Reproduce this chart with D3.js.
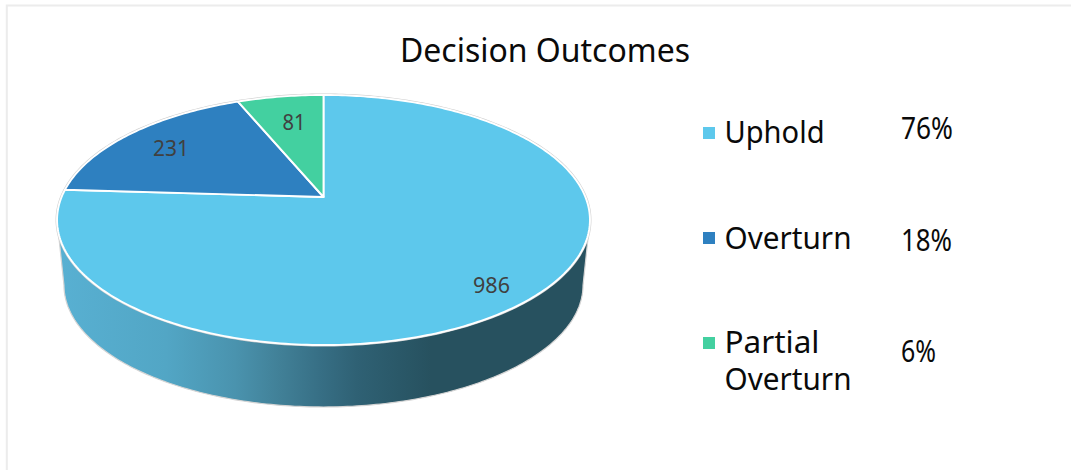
<!DOCTYPE html>
<html><head><meta charset="utf-8">
<script src="https://cdn.jsdelivr.net/npm/d3@7/dist/d3.min.js"></script>
<style>html,body{margin:0;padding:0;background:#fff}svg{display:block}text{font-family:"Noto Sans",sans-serif}</style>
</head><body><svg id="c" width="1071" height="470"></svg>
<script>
const categories = ["Uphold", "Overturn", "Partial Overturn"];
const values = [986, 231, 81];
const percentLabels = ["76%", "18%", "6%"];
const colors = ["#5DC8EC", "#2E80C0", "#43D0A0"];
const titleText = "Decision Outcomes";

const svg = d3.select("#c");
const cx = 323.5, cy = 197, a = 261.9, b = 120.8, k = -0.184;
function proj(angle, scale = 1, y0 = cy) {
  const u = Math.sin(angle), v = -Math.cos(angle), d = 1 + k * v;
  return [cx + scale * a * u / d, y0 + scale * b * v / d];
}
const pie = d3.pie().sort(null).value(d => d).startAngle(0).endAngle(2 * Math.PI);
const arcs = pie(values);
const line = d3.line();

// frame
svg.append("path").attr("d", "M6.8,470V5.6H1071").attr("fill", "none").attr("stroke", "#ececec").attr("stroke-width", 2);

// side wall
const grad = svg.append("defs").append("linearGradient").attr("id", "side").attr("gradientUnits", "userSpaceOnUse")
  .attr("x1", 60).attr("x2", 590).attr("y1", 0).attr("y2", 0);
[[0, "#58b0d2"], [0.2, "#52a6c5"], [0.33, "#4a93ae"], [0.415, "#418097"], [0.49, "#376f85"], [0.56, "#2f6174"], [0.64, "#2a5868"], [0.7, "#27515f"], [1, "#27515f"]]
  .forEach(s => grad.append("stop").attr("offset", s[0]).attr("stop-color", s[1]));
const tExt = Math.acos(-k);
const angles = d3.range(0, 181).map(i => (Math.PI - tExt) + (i / 180) * 2 * tExt);
const topEdge = angles.map(t => proj(t));
const botEdge = angles.map(t => proj(t, 0.974, 262.8)).reverse();
svg.append("path").attr("d", line(topEdge.concat(botEdge)) + "Z")
  .attr("fill", "url(#side)").attr("stroke", "#d4d4d4").attr("stroke-width", 1.2);

// top face
const full = d3.range(0, 361).map(i => proj(i / 360 * 2 * Math.PI));
svg.append("path").attr("d", line(full) + "Z").attr("fill", "#fff").attr("stroke", "#cfcfcf").attr("stroke-width", 3);

function slicePath(d) {
  const n = Math.max(2, Math.ceil((d.endAngle - d.startAngle) * 60));
  const pts = d3.range(0, n + 1).map(i => proj(d.startAngle + (d.endAngle - d.startAngle) * i / n));
  return line([[cx, cy], ...pts]) + "Z";
}
svg.append("g").selectAll("path").data(arcs).join("path")
  .attr("d", slicePath).attr("fill", (d, i) => colors[i])
  .attr("stroke", "#fff").attr("stroke-width", 1.9).attr("stroke-linejoin", "round");

// data labels
const labelPos = [[491.5, 285], [171, 148], [294, 122]];
const labelWidth = [37, 36, 23];
svg.append("g").selectAll("text").data(values).join("text")
  .attr("x", (d, i) => labelPos[i][0] - labelWidth[i] / 2).attr("y", (d, i) => labelPos[i][1] + 8)
  .attr("textLength", (d, i) => labelWidth[i]).attr("lengthAdjust", "spacingAndGlyphs")
  .attr("font-size", 22).attr("fill", "#404040").text(d => d);

// title
svg.append("text").attr("x", 400).attr("y", 62).attr("textLength", 290).attr("lengthAdjust", "spacingAndGlyphs")
  .attr("font-size", 32).attr("fill", "#0a0a0a").text(titleText);

// legend
const legendY = [133, 238, 343];
const legendBase = [143, 249, 353];
const legendWidth = [100, 127, 95];
const swatch = d3.scaleOrdinal().domain(categories).range(colors);
const lg = svg.append("g").selectAll("g").data(categories).join("g");
lg.append("rect").attr("x", 703).attr("y", (d, i) => legendY[i] - 6).attr("width", 12).attr("height", 12)
  .attr("fill", d => swatch(d));
lg.append("text").attr("x", 724.5).attr("y", (d, i) => legendBase[i])
  .attr("textLength", (d, i) => legendWidth[i]).attr("lengthAdjust", "spacingAndGlyphs")
  .attr("font-size", 31).attr("fill", "#0a0a0a")
  .text(d => d === "Partial Overturn" ? "Partial" : d);
svg.append("text").attr("x", 724.5).attr("y", 390).attr("textLength", 127).attr("lengthAdjust", "spacingAndGlyphs")
  .attr("font-size", 31).attr("fill", "#0a0a0a").text("Overturn");

// percentages
const pctY = [139, 251, 362];
const pctWidth = [52, 51, 35];
svg.append("g").selectAll("text").data(percentLabels).join("text")
  .attr("x", 901).attr("y", (d, i) => pctY[i])
  .attr("textLength", (d, i) => pctWidth[i]).attr("lengthAdjust", "spacingAndGlyphs")
  .attr("font-size", 31).attr("fill", "#0a0a0a").text(d => d);
</script></body></html>
